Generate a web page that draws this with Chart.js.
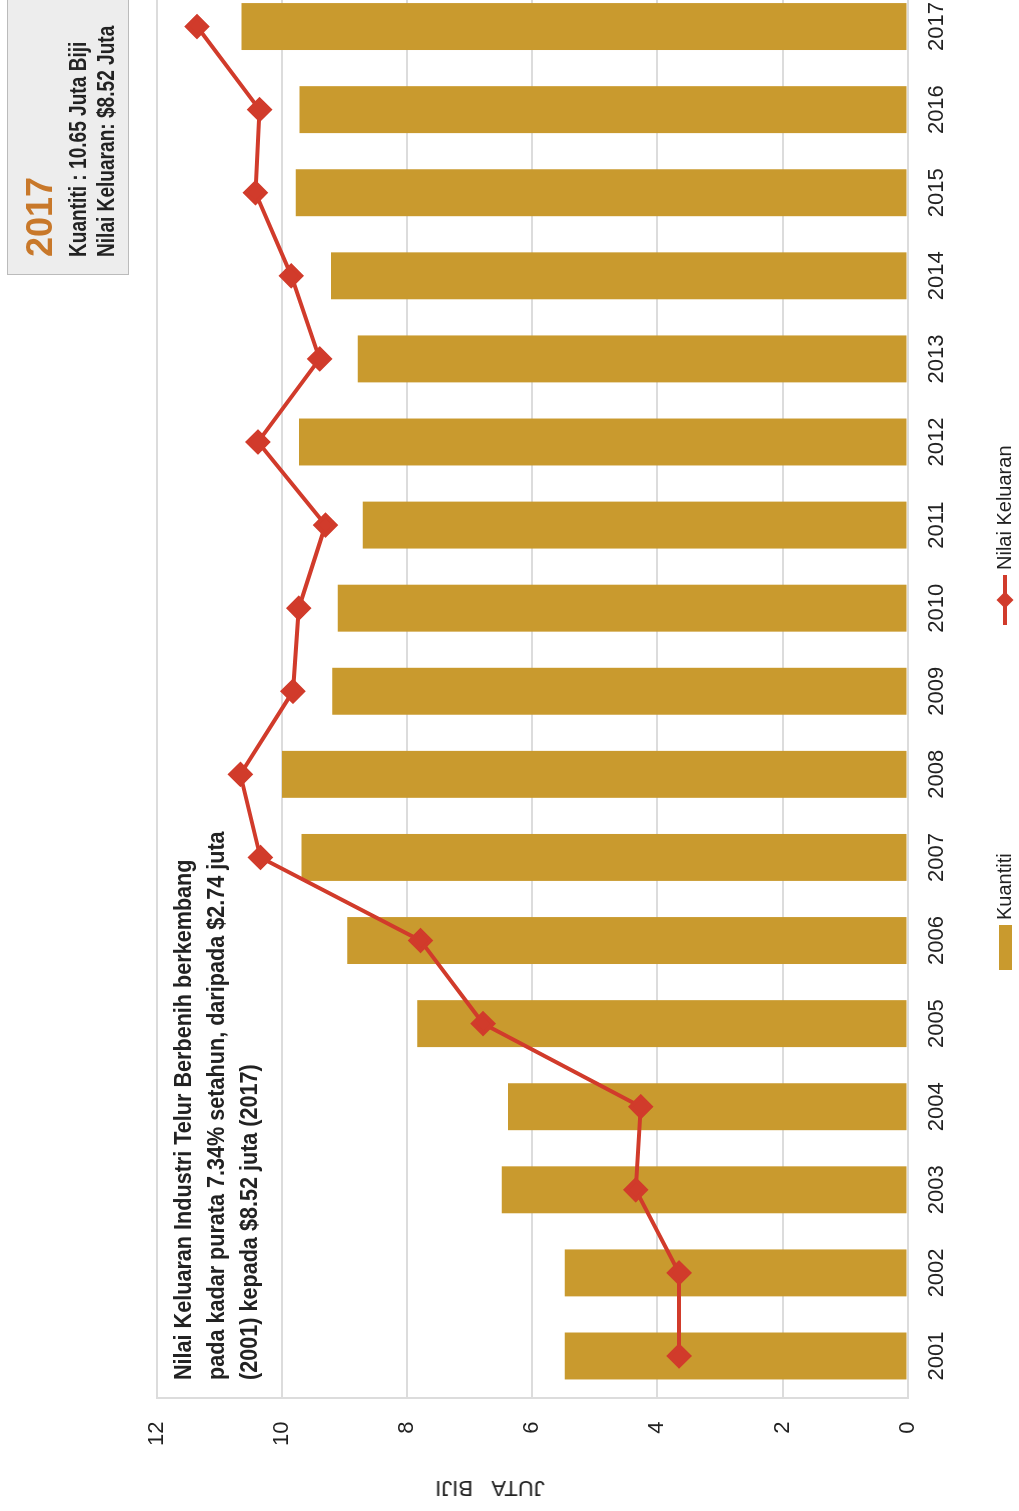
<!DOCTYPE html>
<html>
<head>
<meta charset="utf-8">
<script src="https://cdn.jsdelivr.net/npm/chart.js@4"></script>
<style>
  html, body { margin: 0; padding: 0; background: #fff; overflow: hidden; width: 1019px; height: 1511px; }
  #wrap {
    position: absolute; left: 0; top: 0; width: 1540px; height: 1019px;
    transform-origin: 0 0; transform: translate(0px, 1511px) rotate(-90deg);
    font-family: 'Liberation Sans Narrow', 'Arial Narrow', sans-serif; color: #222;
  }
  #my-chart { position: absolute; left: 0; top: 0; }
  .note { position: absolute; left: 131px; top: 166px; font-size: 24px; font-weight: bold; line-height: 33px; white-space: nowrap; transform-origin: 0 0; transform: scaleX(0.9); }
  .info { position: absolute; left: 1236px; top: 7px; width: 300px; height: 122px; background: #ededed; border: 1px solid #bbb; box-sizing: border-box; }
  .info div { position: absolute; left: 17px; white-space: nowrap; font-weight: bold; transform-origin: 0 0; }
  .ytitle { position: absolute; left: 23px; top: 490px; font-size: 22px; white-space: nowrap; transform: translate(-50%, -50%) rotate(-90deg); }
  .leg { position: absolute; font-size: 20px; white-space: nowrap; }
</style>
</head>
<body>
<div id="wrap">
  <canvas id="my-chart" width="1540" height="1019"></canvas>
  <div class="note">Nilai Keluaran Industri Telur Berbenih berkembang<br>pada kadar purata 7.34% setahun, daripada $2.74 juta<br>(2001) kepada $8.52 juta (2017)</div>
  <div class="info">
    <div style="top:11px;font-size:36px;color:#c8782a;">2017</div>
    <div style="top:57px;font-size:23px;transform:scaleX(0.83);">Kuantiti : 10.65 Juta Biji</div>
    <div style="top:85px;font-size:23px;transform:scaleX(0.83);">Nilai Keluaran: $8.52 Juta</div>
  </div>
  <div class="ytitle">JUTA&nbsp;&nbsp;&nbsp;BIJI</div>
  <div class="leg" style="left:541px;top:999px;width:45px;height:13px;background:#c99a2e;"></div>
  <div class="leg" style="left:591px;top:993px;">Kuantiti</div>
  <div class="leg" style="left:886px;top:1003px;width:50px;height:4px;background:#d13b2b;"></div>
  <div class="leg" style="left:905px;top:999px;width:12px;height:12px;background:#d13b2b;transform:rotate(45deg);"></div>
  <div class="leg" style="left:941px;top:993px;">Nilai Keluaran</div>
</div>
<script>
const years = ['2001','2002','2003','2004','2005','2006','2007','2008','2009','2010','2011','2012','2013','2014','2015','2016','2017'];
// juta biji
const kuantiti = [5.48, 5.48, 6.49, 6.39, 7.84, 8.96, 9.69, 10.0, 9.20, 9.11, 8.71, 9.73, 8.79, 9.22, 9.78, 9.72, 10.65];
// $ juta
const nilaiKeluaran = [2.74, 2.74, 3.26, 3.20, 5.09, 5.84, 7.76, 8.00, 7.37, 7.30, 6.98, 7.79, 7.05, 7.39, 7.82, 7.77, 8.52];
const yTicks = [0, 2, 4, 6, 8, 10, 12];

const barColor = '#c99a2e';
const lineColor = '#d13b2b';

Chart.defaults.font.family = "'Liberation Sans Narrow', 'Arial Narrow', sans-serif";
Chart.defaults.color = '#222';

const ctx = document.getElementById('my-chart').getContext('2d');
const chart = new Chart(ctx, {
  type: 'bar',
  data: {
    labels: years,
    datasets: [
      {
        type: 'line',
        label: 'Nilai Keluaran',
        data: nilaiKeluaran,
        yAxisID: 'y2',
        borderColor: lineColor,
        backgroundColor: lineColor,
        borderWidth: 4,
        pointStyle: 'rectRot',
        pointRadius: 10,
        tension: 0,
        order: 0
      },
      {
        label: 'Kuantiti',
        data: kuantiti,
        backgroundColor: barColor,
        barPercentage: 0.565,
        categoryPercentage: 1,
        order: 1
      }
    ]
  },
  options: {
    responsive: false,
    animation: false,
    layout: { padding: { top: 157, left: 41, right: 14, bottom: 53 } },
    plugins: { legend: { display: false }, tooltip: { enabled: false } },
    scales: {
      x: {
        grid: { display: false, drawTicks: false },
        border: { display: true, color: '#dcdcdc', width: 2 },
        ticks: { padding: 16, font: { size: 22 }, maxRotation: 0 }
      },
      y: {
        min: 0,
        max: 12,
        afterBuildTicks: axis => { axis.ticks = yTicks.map(v => ({ value: v })); },
        grid: { color: '#dcdcdc', lineWidth: 2, drawTicks: false },
        border: { display: true, color: '#dcdcdc', width: 2 },
        ticks: { padding: 24, font: { size: 22 } }
      },
      y2: { display: false, min: 0, max: 9 }
    }
  }
});
</script>
</body>
</html>
